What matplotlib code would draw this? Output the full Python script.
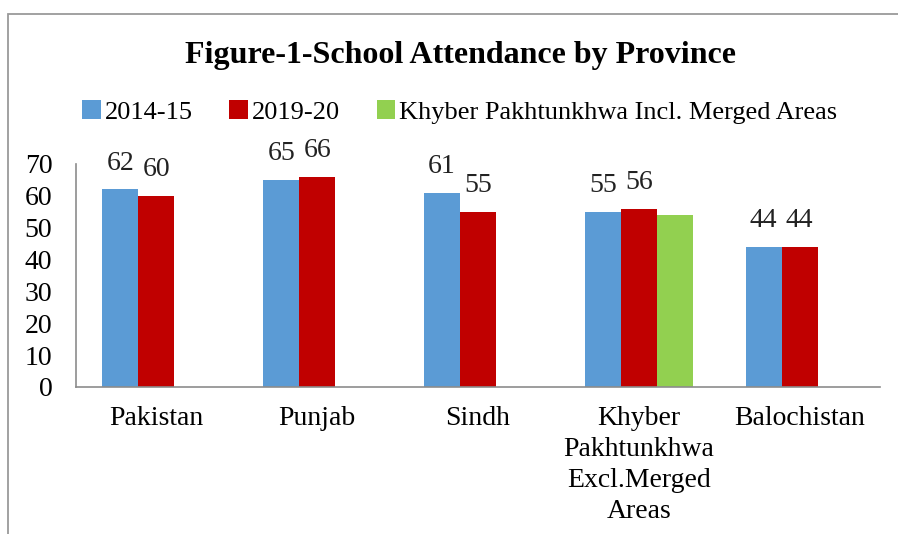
import matplotlib.pyplot as plt
import numpy as np
from matplotlib.patches import Rectangle

plt.rcParams['font.family'] = ['Liberation Serif', 'DejaVu Serif']

provinces = ['Pakistan', 'Punjab', 'Sindh',
             'Khyber\nPakhtunkhwa\nExcl.Merged\nAreas', 'Balochistan']
v_2014 = [62, 65, 61, 55, 44]
v_2019 = [60, 66, 55, 56, 44]
v_kp_merged = [np.nan, np.nan, np.nan, 54, np.nan]

fig = plt.figure(figsize=(8.98, 5.34), dpi=100)
ax = fig.add_axes([0.0846, 0.2753, 0.8954, 0.4176])

x = np.arange(len(provinces))
w = 0.224
b1 = ax.bar(x - w, v_2014, w, color='#5B9BD5', label='2014-15')
b2 = ax.bar(x, v_2019, w, color='#C00000', label='2019-20')
b3 = ax.bar(x + w, v_kp_merged, w, color='#92D050',
            label='Khyber Pakhtunkhwa Incl. Merged Areas')

for bars, vals in [(b1, v_2014), (b2, v_2019)]:
    for r, v in zip(bars, vals):
        ax.annotate(str(v), (r.get_x() + r.get_width() / 2, v),
                    xytext=(0, 10), textcoords='offset points',
                    ha='center', va='bottom', fontsize=20, color='#222222')

ax.set_xlim(-0.5, len(provinces) - 0.5)
ax.set_ylim(0, 70)
ax.set_yticks(range(0, 71, 10))
ax.set_xticks(x)
ax.set_xticklabels(provinces, linespacing=1.3)
ax.tick_params(axis='both', length=0, labelsize=20)
ax.tick_params(axis='x', pad=14)
ax.tick_params(axis='y', pad=17)
for s in ['top', 'right']:
    ax.spines[s].set_visible(False)
for s in ['left', 'bottom']:
    ax.spines[s].set_color('#8c8c8c')
    ax.spines[s].set_linewidth(1.2)

fig.text(0.513, 0.897, 'Figure-1-School Attendance by Province',
         ha='center', va='center', fontsize=23, fontweight='bold')

fig.legend(handles=[b1, b2, b3], loc='center', bbox_to_anchor=(0.512, 0.79),
           ncol=3, frameon=False, fontsize=19, handlelength=0.7,
           handleheight=0.7, handletextpad=0.15, columnspacing=1.4)

# outer chart frame (cut off at right and bottom)
fig.patches.append(Rectangle((8 / 898, -0.1), 1.2, 1.1 - 14 / 534,
                             transform=fig.transFigure, fill=False,
                             edgecolor='#9a9a9a', linewidth=1.3))

fig.savefig('out.png', dpi=100)
